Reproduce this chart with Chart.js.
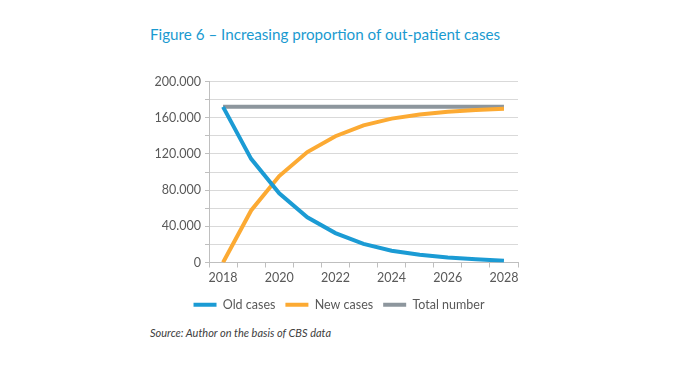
<!DOCTYPE html>
<html>
<head>
<meta charset="utf-8">
<script src="https://cdn.jsdelivr.net/npm/chart.js@4/dist/chart.umd.min.js"></script>
<style>
    html, body { margin: 0; padding: 0; background: #fff; }
    body { width: 674px; height: 370px; position: relative; overflow: hidden; font-family: Lato, "Open Sans", sans-serif; }
    #title { position: absolute; left: 150px; top: 25px; font-size: 15.2px; color: #1a9ad0; white-space: nowrap; }
    #wrap { position: absolute; left: 130px; top: 70px; width: 408px; height: 251px; }
    #source { position: absolute; left: 150px; top: 326px; font-size: 11px; font-style: italic; color: #404040; white-space: nowrap; }
</style>
</head>
<body>
<div id="title">Figure 6 – Increasing proportion of out-patient cases</div>
<div id="wrap"><canvas id="chart"></canvas></div>
<div id="source">Source: Author on the basis of CBS data</div>
<script>
// values
const years = ['2018','2019','2020','2021','2022','2023','2024','2025','2026','2027','2028'];
const oldCases = [172000, 114500, 76500, 50000, 32500, 20500, 13000, 8500, 5500, 3500, 2000];
const newCases = [0, 57500, 95500, 122000, 139500, 151500, 159000, 163500, 166500, 168500, 170000];
const totalNumber = [172000, 172000, 172000, 172000, 172000, 172000, 172000, 172000, 172000, 172000, 172000];
const yTicks = [0, 40000, 80000, 120000, 160000, 200000];

const textColor = '#595959';
Chart.defaults.font.family = 'Lato, "Open Sans", sans-serif';
Chart.defaults.font.size = 12.5;
Chart.defaults.color = textColor;

function fmt(v) { return v === 0 ? '0' : (v / 1000).toFixed(0) + '.000'; }

// nudge the legend so it sits centred under the plot area, like the original
const legendShift = {
    id: 'legendShift',
    afterLayout(chart) {
        if (chart.legend) { chart.legend.left += 15; chart.legend.right += 15; }
    }
};

new Chart(document.getElementById('chart'), {
    type: 'line',
    data: {
        labels: years,
        datasets: [
            { label: 'Old cases', data: oldCases, borderColor: '#1b9bd4', backgroundColor: '#1b9bd4', borderWidth: 4, pointRadius: 0, tension: 0 },
            { label: 'New cases', data: newCases, borderColor: '#fcaa33', backgroundColor: '#fcaa33', borderWidth: 4, pointRadius: 0, tension: 0 },
            { label: 'Total number', data: totalNumber, borderColor: '#8d969d', backgroundColor: '#8d969d', borderWidth: 4, pointRadius: 0, tension: 0 }
        ]
    },
    plugins: [legendShift],
    options: {
        responsive: true,
        maintainAspectRatio: false,
        animation: false,
        layout: { padding: { top: 4, right: 20, bottom: 0, left: 0 } },
        plugins: {
            tooltip: { enabled: false },
            legend: {
                position: 'bottom',
                labels: { usePointStyle: true, pointStyle: 'line', pointStyleWidth: 23, padding: 10, color: textColor, font: { size: 12.5 } }
            }
        },
        scales: {
            x: {
                offset: true,
                grid: { offset: true, drawOnChartArea: false, drawTicks: true, tickLength: 5, color: '#bfbfbf' },
                border: { color: '#bfbfbf' },
                ticks: {
                    autoSkip: false, maxRotation: 0, padding: 3,
                    callback: function(v, i) { return i % 2 === 0 ? years[i] : ''; }
                }
            },
            y: {
                min: 0, max: 200000,
                afterFit: function(s) { s.width = 79; },
                grid: { color: '#d9d9d9', drawTicks: true, tickLength: 4, tickColor: '#bfbfbf' },
                border: { color: '#bfbfbf' },
                ticks: {
                    stepSize: 20000, padding: 4,
                    callback: function(v) { return yTicks.includes(v) ? fmt(v) : ''; }
                }
            }
        }
    }
});
</script>
</body>
</html>
